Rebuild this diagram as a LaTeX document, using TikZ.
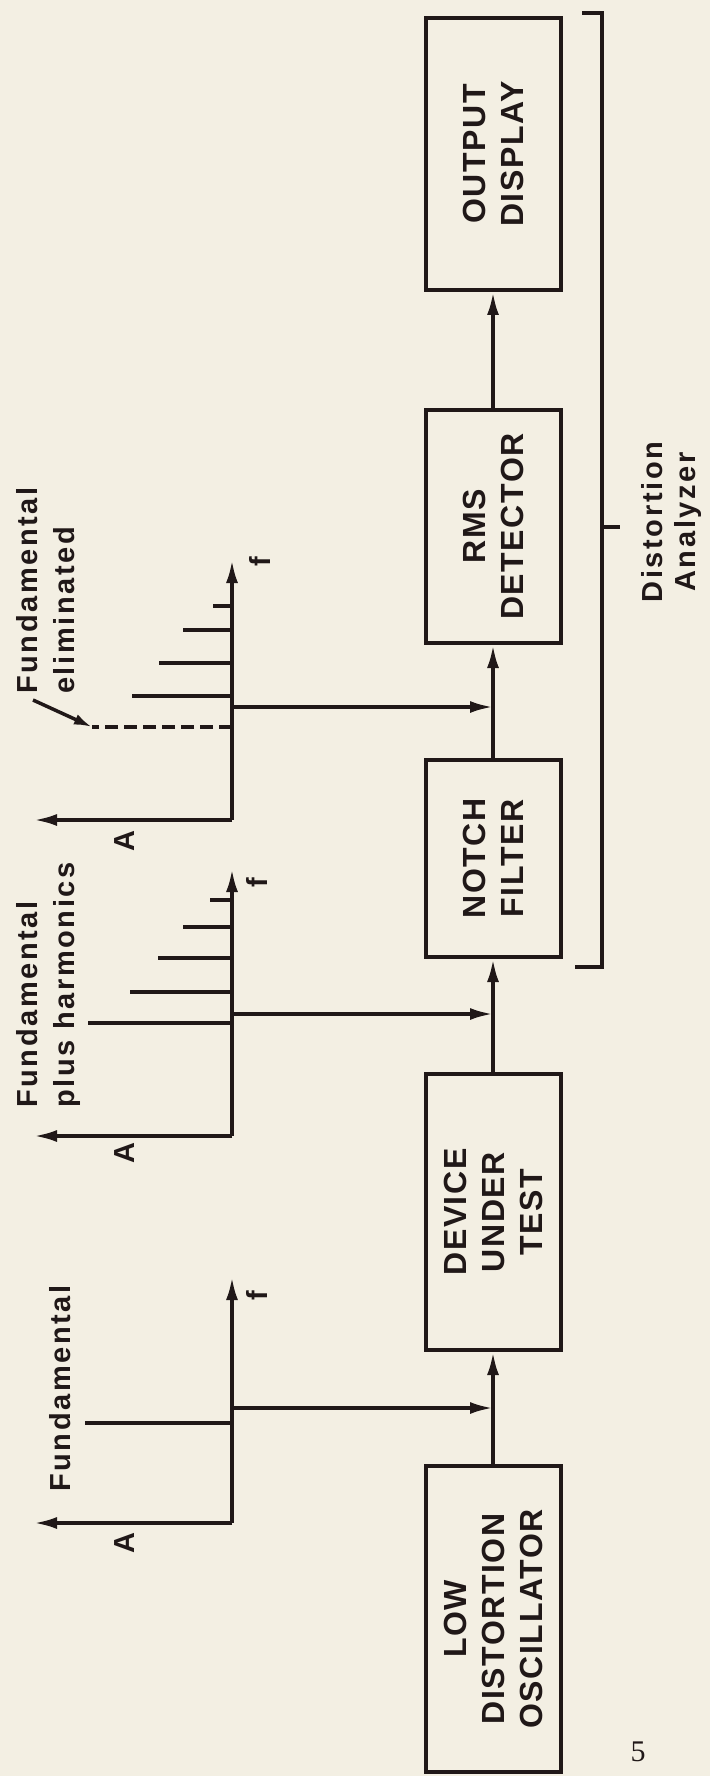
\documentclass[tikz,border=0pt]{standalone}
\usepackage{fontspec}
\setmainfont{Liberation Sans}
\newfontfamily\boxfont[LetterSpace=5]{Liberation Sans}
\newfontfamily\lblfont[LetterSpace=9]{Liberation Sans}
\newfontfamily\numfont{Liberation Serif}
\usetikzlibrary{arrows.meta}
\definecolor{bg}{RGB}{243,239,227}
\definecolor{ink}{RGB}{32,24,24}
\begin{document}
\begin{tikzpicture}[x=1pt,y=-1pt,
  ln/.style={line width=3.5pt, draw=ink},
  arr/.style={ln, -{Latex[length=23pt,width=12pt]}},
  blk/.style={draw=ink, line width=4pt, rotate=90, align=center, text=ink, inner sep=0pt,
    font=\boxfont\bfseries\fontsize{32}{38}\selectfont},
  lbl/.style={rotate=90, anchor=base west, inner sep=0pt, text=ink,
    font=\lblfont\bfseries\fontsize{29}{35}\selectfont},
  axl/.style={rotate=90, anchor=center, inner sep=0pt, text=ink,
    font=\lblfont\bfseries\fontsize{29}{35}\selectfont}]
\fill[bg] (0,0) rectangle (710,1776);
\useasboundingbox (0,0) rectangle (710,1776);

% blocks
\node[blk, minimum width=306pt, minimum height=135pt] (osc) at (493,1619) {LOW\\DISTORTION\\OSCILLATOR};
\node[blk, minimum width=276pt, minimum height=135pt] (dut) at (493,1212) {DEVICE\\UNDER\\TEST};
\node[blk, minimum width=197pt, minimum height=135pt] (notch) at (493,858.5) {NOTCH\\FILTER};
\node[blk, minimum width=233pt, minimum height=135pt] (rms) at (493,526.5) {RMS\\DETECTOR};
\node[blk, minimum width=272pt, minimum height=135pt] (out) at (493,154) {OUTPUT\\DISPLAY};

% main chain
\draw[arr] (osc) -- (dut);
\draw[arr] (dut) -- (notch);
\draw[arr] (notch) -- (rms);
\draw[arr] (rms) -- (out);

% junctions on the chain
\coordinate (j1) at (493,1408);
\coordinate (j2) at (493,1014);
\coordinate (j3) at (493,707);

% ---- spectrum 1: Fundamental
\coordinate (o1) at (232,1523);
\coordinate (a1) at (34,1523);
\coordinate (f1) at (232,1277);
\coordinate (s1) at (232,1408);
\draw[arr] (o1) -- (a1);
\draw[arr] (o1) -- (f1);
\draw[ln] (232,1423) -- (85,1423);
\draw[arr] (s1) -- (j1);
\node[axl] (A1) at (125,1543) {A};
\node[axl] (F1) at (257,1296) {f};
\node[lbl] (t1) at (70,1492) {Fundamental};

% ---- spectrum 2: Fundamental plus harmonics
\coordinate (o2) at (232,1136);
\coordinate (a2) at (34,1136);
\coordinate (f2) at (232,869);
\coordinate (s2) at (232,1014);
\draw[arr] (o2) -- (a2);
\draw[arr] (o2) -- (f2);
\draw[ln] (232,1023) -- (88,1023);
\draw[ln] (232,992) -- (130,992);
\draw[ln] (232,958) -- (158,958);
\draw[ln] (232,927) -- (183,927);
\draw[ln] (232,900) -- (210,900);
\draw[arr] (s2) -- (j2);
\node[axl] (A2) at (125,1153) {A};
\node[axl] (F2) at (257,883) {f};
\node[lbl] (t2a) at (37,1108) {Fundamental};
\node[lbl] (t2b) at (74,1108) {plus harmonics};

% ---- spectrum 3: Fundamental eliminated
\coordinate (o3) at (232,820);
\coordinate (a3) at (34,820);
\coordinate (f3) at (232,560);
\coordinate (s3) at (232,707);
\draw[arr] (o3) -- (a3);
\draw[arr] (o3) -- (f3);
\coordinate (d3) at (92,727);
\draw[ln, dash pattern=on 13pt off 6pt] (232,727) -- (d3);
\draw[ln] (232,696) -- (132,696);
\draw[ln] (232,663) -- (159,663);
\draw[ln] (232,630) -- (183,630);
\draw[ln] (232,606) -- (213,606);
\draw[arr] (s3) -- (j3);
\node[axl] (A3) at (125,841) {A};
\node[axl] (F3) at (260,562) {f};
\node[lbl] (t3a) at (37,694) {Fundamental};
\node[lbl] (t3b) at (74,694) {eliminated};
\coordinate (ld) at (33,700);
\draw[ln, -{Latex[length=18pt,width=11pt]}] (ld) -- (d3);

% ---- Distortion analyzer bracket
\coordinate (bt) at (602,13);
\coordinate (bb) at (602,967);
\coordinate (bm) at (602,527);
\draw[ln] (582,13) -- (bt) -- (bb) -- (575,967);
\draw[ln] (bm) -- (620,527);
\node[axl, anchor=base] (da1) at (662,522) {Distortion};
\node[axl, anchor=base] (da2) at (695,522) {Analyzer};

% page number
\node[inner sep=0pt, text=ink, font=\numfont\fontsize{30}{36}\selectfont] (pg) at (638,1752) {5};
\end{tikzpicture}
\end{document}
